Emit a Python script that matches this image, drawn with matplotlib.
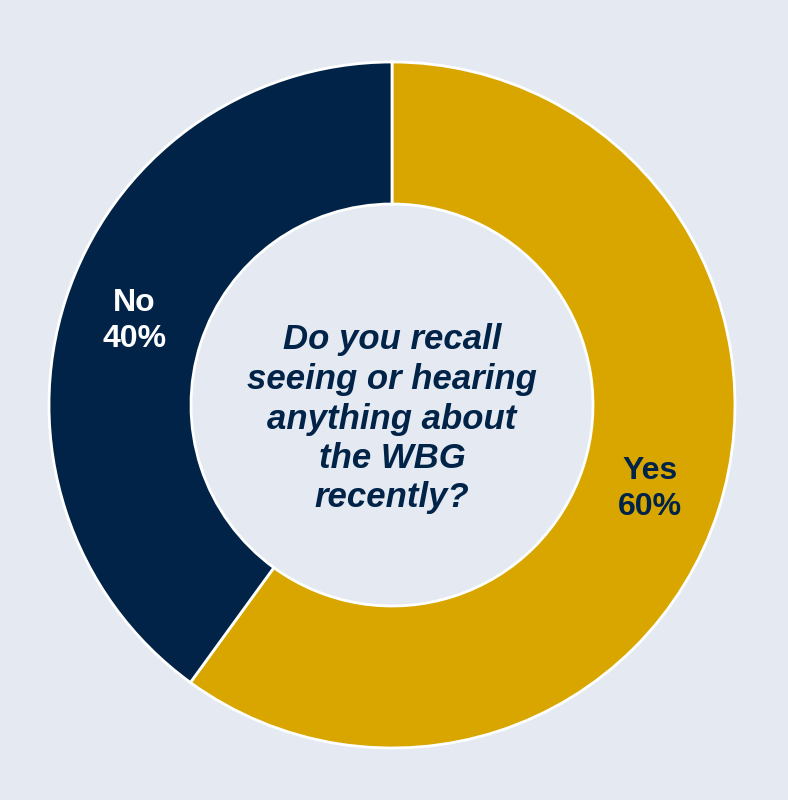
import matplotlib.pyplot as plt

# Data
labels = ["Yes", "No"]
shares = [60, 40]
colors = ["#D9A600", "#002347"]
label_colors = ["#002347", "white"]
question = "Do you recall\nseeing or hearing\nanything about\nthe WBG\nrecently?"

bg = "#E4E9F2"

fig = plt.figure(figsize=(7.88, 8.0), dpi=100, facecolor=bg)
ax = fig.add_axes([0, 0, 1, 1])
ax.set_facecolor(bg)

wedges, texts = ax.pie(
    shares,
    colors=colors,
    startangle=90,
    counterclock=False,
    center=(392, 395),
    radius=343,
    labels=[f"{l}\n{s}%" for l, s in zip(labels, shares)],
    labeldistance=0.79,
    wedgeprops=dict(width=142, edgecolor="white", linewidth=2),
    frame=True,
)
ax.set_xlim(0, 788)
ax.set_ylim(0, 800)
ax.set_aspect("equal")
ax.axis("off")

for t, c in zip(texts, label_colors):
    t.set_color(c)
    t.set_fontsize(23)
    t.set_fontweight("bold")
    t.set_family("Liberation Sans")
    t.set_ha("center")
    t.set_va("center")
    t.set_linespacing(1.27)

ax.text(392, 381, question, ha="center", va="center", fontsize=25,
        fontweight="bold", fontstyle="italic", family="Liberation Sans",
        color="#002347", linespacing=1.25)

fig.savefig("out.png", dpi=100, facecolor=bg)
